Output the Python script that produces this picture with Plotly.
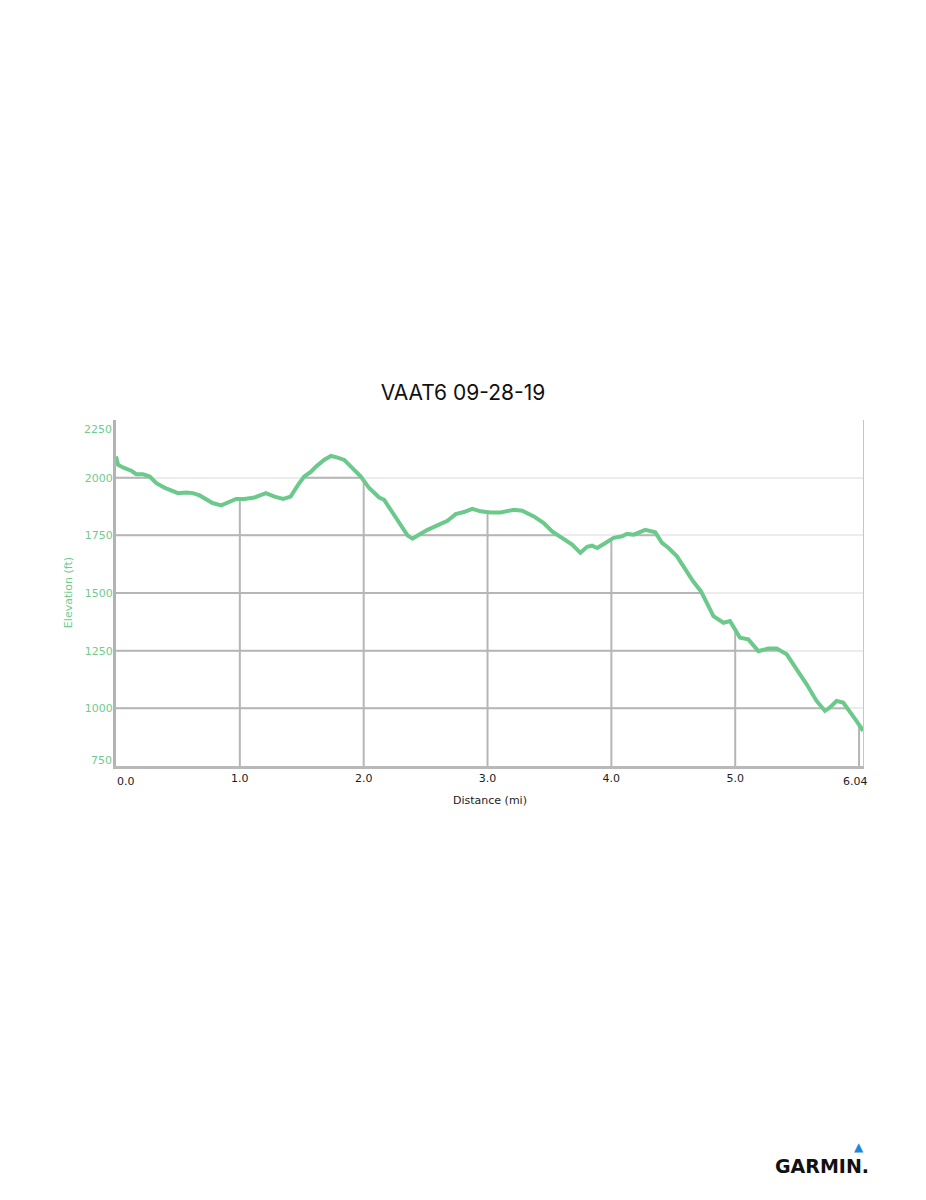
import numpy as np
import plotly.graph_objects as go

# ---------------- data ----------------
title_text = "VAAT6 09-28-19"

distance_mi = [0.0, 0.017, 0.07, 0.124, 0.164, 0.218, 0.272, 0.326, 0.39, 0.446,
               0.5, 0.567, 0.62, 0.675, 0.728, 0.78, 0.85, 0.9, 0.97, 1.037,
               1.118, 1.21, 1.28, 1.35, 1.41, 1.47, 1.52, 1.575, 1.615, 1.68,
               1.736, 1.79, 1.843, 1.897, 1.977, 2.044, 2.125, 2.165, 2.233, 2.3,
               2.354, 2.394, 2.447, 2.515, 2.595, 2.676, 2.743, 2.81, 2.877, 2.944,
               3.025, 3.106, 3.213, 3.28, 3.374, 3.454, 3.522, 3.603, 3.683, 3.75,
               3.804, 3.844, 3.885, 3.952, 4.018, 4.086, 4.126, 4.18, 4.274, 4.355,
               4.409, 4.462, 4.53, 4.556, 4.66, 4.723, 4.771, 4.824, 4.905, 4.958,
               5.039, 5.106, 5.187, 5.267, 5.335, 5.416, 5.496, 5.577, 5.657, 5.724,
               5.765, 5.818, 5.872, 5.925, 5.979, 6.033]

elevation_ft = [2092, 2055, 2041, 2030, 2015, 2015, 2005, 1976, 1957, 1943,
                1933, 1936, 1933, 1923, 1904, 1890, 1880, 1890, 1908, 1908,
                1914, 1933, 1918, 1908, 1918, 1969, 2005, 2026, 2048, 2077,
                2094, 2087, 2077, 2048, 2005, 1955, 1914, 1904, 1847, 1789,
                1750, 1736, 1753, 1774, 1793, 1813, 1842, 1851, 1865, 1854,
                1849, 1849, 1861, 1857, 1832, 1803, 1767, 1739, 1710, 1674,
                1700, 1705, 1695, 1717, 1739, 1746, 1757, 1753, 1774, 1763,
                1717, 1695, 1659, 1637, 1551, 1508, 1458, 1400, 1371, 1378,
                1306, 1299, 1248, 1259, 1259, 1234, 1169, 1104, 1032, 989,
                1004, 1032, 1025, 989, 946, 902]

y_tick_values = [750, 1000, 1250, 1500, 1750, 2000, 2250]
y_tick_labels = ["750", "1000", "1250", "1500", "1750", "2000", "2250"]
x_tick_values = [0, 1, 2, 3, 4, 5, 6]
x_tick_labels = ["0.0", "1.0", "2.0", "3.0", "4.0", "5.0", "6.04"]
x_axis_max = 6.04
y_axis_min, y_axis_max = 750, 2250

# ---------------- styles ----------------
GREEN = "#6cc98c"
LABEL_GREEN = "#6fcb8e"
DARK_GRID = "#b6b6b6"
LIGHT_GRID = "#ececec"
TICK_FONT = dict(family="DejaVu Sans", size=11, color="#1c1c1c")

# page body has an 8px margin; figure is sized so the plot lands on the reference pixels
FIG_W, FIG_H = 910, 1184

xs = np.asarray(distance_mi, dtype=float)
ys = np.asarray(elevation_ft, dtype=float)

fig = go.Figure()

# Darker grid segments that sit under the profile (derived from the data)
fine_x = np.linspace(xs[0], xs[-1], 6000)
fine_y = np.interp(fine_x, xs, ys)
hx, hy = [], []
for lvl in y_tick_values[1:-1]:
    mask = fine_y >= lvl
    idx = np.flatnonzero(np.diff(np.concatenate([[0], mask.astype(int), [0]])))
    for a, b in zip(idx[0::2], idx[1::2]):
        x0 = 0.0 if a == 0 else fine_x[a]
        hx += [x0, fine_x[b - 1], None]
        hy += [lvl, lvl, None]
vx, vy = [], []
for xv in x_tick_values[1:]:
    vx += [xv, xv, None]
    vy += [y_axis_min, float(np.interp(xv, xs, ys)), None]

fig.add_trace(go.Scatter(x=hx, y=hy, mode="lines", line=dict(color=DARK_GRID, width=2),
                         hoverinfo="skip", showlegend=False))
fig.add_trace(go.Scatter(x=vx, y=vy, mode="lines", line=dict(color=DARK_GRID, width=2),
                         hoverinfo="skip", showlegend=False))

# Elevation profile
fig.add_trace(go.Scatter(x=distance_mi, y=elevation_ft, mode="lines",
                         line=dict(color=GREEN, width=4, shape="linear"),
                         name="Elevation", showlegend=False))

annotations = [
    # edge tick labels nudged inward
    dict(text=y_tick_labels[-1], xref="paper", x=0, xanchor="right", xshift=-2,
         yref="y", y=y_tick_values[-1], yanchor="middle", yshift=-9,
         showarrow=False, font=dict(family="DejaVu Sans", size=11, color=LABEL_GREEN)),
    dict(text=y_tick_labels[0], xref="paper", x=0, xanchor="right", xshift=-2,
         yref="y", y=y_tick_values[0], yanchor="middle", yshift=6,
         showarrow=False, font=dict(family="DejaVu Sans", size=11, color=LABEL_GREEN)),
    dict(text=x_tick_labels[0], xref="x", x=x_tick_values[0], xanchor="center", xshift=10,
         yref="paper", y=0, yanchor="middle", yshift=-15,
         showarrow=False, font=TICK_FONT),
    dict(text=x_tick_labels[-1], xref="x", x=x_tick_values[-1], xanchor="center", xshift=-4,
         yref="paper", y=0, yanchor="middle", yshift=-15,
         showarrow=False, font=TICK_FONT),
    # axis titles
    dict(text="Elevation (ft)", textangle=-90, xref="paper", x=-0.064, xanchor="center",
         yref="paper", y=0.5, yanchor="middle", showarrow=False,
         font=dict(family="DejaVu Sans", size=11, color=LABEL_GREEN)),
    dict(text="Distance (mi)", xref="paper", x=0.5, xanchor="center",
         yref="paper", y=0, yanchor="middle", yshift=-34, showarrow=False,
         font=TICK_FONT),
    # Garmin logo
    dict(text="<b>GARMIN.</b>", xref="paper", x=0.9435, xanchor="center",
         yref="paper", y=-1.156, yanchor="middle", showarrow=False,
         font=dict(family="DejaVu Sans", size=19, color="#111111")),
    dict(text="▲", xref="paper", x=0.993, xanchor="center",
         yref="paper", y=-1.102, yanchor="middle", showarrow=False,
         font=dict(family="DejaVu Sans", size=12, color="#1f86e0")),
]

fig.update_layout(
    width=FIG_W, height=FIG_H,
    margin=dict(l=108, r=54, t=412, b=426),
    paper_bgcolor="white", plot_bgcolor="white",
    title=dict(text=title_text, x=(463 - 8) / FIG_W, xref="container", xanchor="center",
               y=1 - (393 - 8) / FIG_H, yref="container", yanchor="middle",
               font=dict(family="Inter", size=21, color="#111111")),
    xaxis=dict(range=[0, x_axis_max], showgrid=False, zeroline=False,
               showline=True, linecolor="#b9b9b9", linewidth=3,
               tickmode="array", tickvals=x_tick_values[1:-1], ticktext=x_tick_labels[1:-1],
               ticks="", tickfont=TICK_FONT, fixedrange=True),
    yaxis=dict(range=[y_axis_min, y_axis_max], showgrid=True, gridcolor=LIGHT_GRID, gridwidth=1.5,
               zeroline=False, showline=True, linecolor="#b3b3b3", linewidth=3,
               tickmode="array", tickvals=y_tick_values[1:-1], ticktext=y_tick_labels[1:-1],
               ticks="", ticklabelstandoff=-2,
               tickfont=dict(family="DejaVu Sans", size=11, color=LABEL_GREEN),
               fixedrange=True),
    shapes=[dict(type="line", xref="x", x0=x_axis_max, x1=x_axis_max,
                 yref="paper", y0=0, y1=1, line=dict(color="#c6c6c6", width=2))],
    annotations=annotations,
)

fig.write_html("out.html")
